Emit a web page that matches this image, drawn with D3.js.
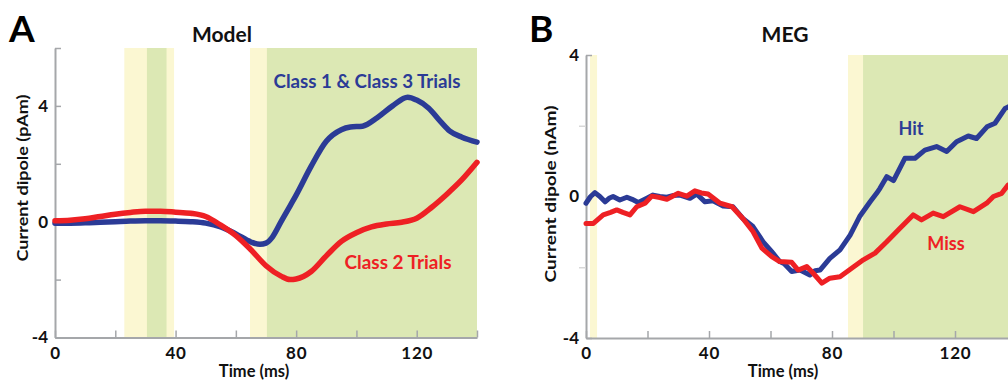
<!DOCTYPE html>
<html>
<head>
<meta charset="utf-8">
<script src="https://cdn.jsdelivr.net/npm/d3@7"></script>
<style>
  html, body { margin: 0; padding: 0; background: #fff; }
  svg { display: block; }
  text { font-family: Lato, "Open Sans", sans-serif; font-weight: 700; }
</style>
</head>
<body>
<svg id="chart" width="1008" height="387"></svg>
<script>
// ---- Panel A: model dipole (pAm) ----
const timeA = [0, 5, 10, 15, 20, 25, 30, 35, 40, 45, 50, 55, 60, 65, 68, 70, 72, 75, 78, 80, 85, 90, 95, 98, 102, 107, 112, 117, 120, 124, 128, 131, 135, 140];
const class13 = [-0.05, -0.05, -0.04, -0.02, 0.0, 0.02, 0.03, 0.03, 0.02, 0.0, -0.05, -0.18, -0.42, -0.7, -0.78, -0.74, -0.55, 0.0, 0.55, 0.92, 1.92, 2.78, 3.18, 3.27, 3.3, 3.6, 4.0, 4.3, 4.2, 3.92, 3.45, 3.13, 2.92, 2.75];
const timeA2 = [0, 5, 10, 15, 20, 25, 30, 35, 40, 45, 50, 55, 60, 65, 70, 75, 78, 80, 85, 90, 95, 100, 105, 110, 115, 120, 125, 130, 135, 140];
const class2 = [0.03, 0.05, 0.1, 0.18, 0.26, 0.32, 0.36, 0.36, 0.33, 0.29, 0.18, -0.12, -0.48, -0.97, -1.52, -1.88, -2.0, -1.98, -1.72, -1.18, -0.68, -0.38, -0.18, -0.08, -0.02, 0.12, 0.5, 0.95, 1.45, 2.05];

// ---- Panel B: MEG dipole (nAm) ----
const timeHit = [0, 1.5, 2.9, 4.5, 6.2, 7.5, 8.8, 11, 13.3, 15, 17, 19.8, 21.8, 24, 26.3, 28.5, 30.6, 33.8, 36, 38.7, 41.3, 44.6, 47.8, 51, 54.3, 57.6, 60.4, 63, 64.5, 66.9, 69.6, 72.8, 74.5, 76.1, 79.3, 82.6, 85.9, 89.1, 92.4, 94.5, 95.6, 97.8, 100, 103.7, 107, 110.2, 114, 117.3, 120.5, 124.3, 127, 130.4, 133, 136.3, 140];
const hit = [-0.19, 0.0, 0.11, 0.0, -0.15, -0.05, 0.0, -0.1, -0.02, -0.08, -0.17, -0.05, 0.04, 0.0, -0.02, 0.03, 0.04, -0.05, 0.07, -0.15, -0.12, -0.27, -0.29, -0.62, -0.85, -1.28, -1.56, -1.84, -1.9, -2.12, -2.08, -2.22, -2.1, -2.08, -1.75, -1.51, -1.09, -0.55, -0.15, 0.09, 0.23, 0.56, 0.45, 1.08, 1.08, 1.31, 1.41, 1.27, 1.55, 1.71, 1.64, 1.97, 2.07, 2.49, 2.65];
const timeMiss = [0, 2.4, 5.6, 8, 10, 12, 14.3, 16.5, 19.2, 21.4, 24, 26.3, 28, 30, 32.8, 35.4, 37.5, 39.7, 43.6, 47.5, 51, 54.3, 57.2, 60.4, 63, 66.9, 69, 71.8, 73.9, 76.7, 79.3, 82.6, 86.4, 90.2, 94, 97.8, 102.1, 106.4, 109.1, 112.9, 116.2, 121.6, 126, 130.3, 132.5, 135.2, 137.2, 140];
const miss = [-0.76, -0.76, -0.52, -0.45, -0.38, -0.45, -0.52, -0.29, -0.19, 0.01, -0.03, -0.08, 0.0, 0.09, 0.01, 0.16, 0.1, 0.07, -0.19, -0.29, -0.62, -0.99, -1.46, -1.7, -1.84, -1.86, -2.08, -1.98, -2.17, -2.45, -2.31, -2.27, -2.03, -1.79, -1.6, -1.28, -0.9, -0.52, -0.66, -0.47, -0.57, -0.29, -0.43, -0.19, 0.0, 0.09, 0.32, 0.45];

// shaded time windows [start, end] in ms
const yellowA = [[23, 39.5], [64.7, 140]];
const greenA = [[30.5, 37], [70.3, 140]];
const yellowB = [[1.3, 3.6], [85.2, 140]];
const greenB = [[90.1, 140]];

const xTicks = [0, 20, 40, 60, 80, 100, 120, 140];
const xLabels = [0, 40, 80, 120];

const BLUE = "#2b3b96";
const RED = "#ee2024";
const YELLOW = "#fbf7d2";
const GREEN = "#dce8b4";
const AXIS = "#a5a7aa";

const svg = d3.select("#chart");

function panel(opt) {
  const x = d3.scaleLinear().domain([0, 140]).range(opt.xRange);
  const y = d3.scaleLinear().domain(opt.yDomain).range(opt.yRange);
  const g = svg.append("g");
  const [y0, y1] = opt.yRange;

  // shaded windows
  opt.yellow.forEach(([a, b]) => g.append("rect")
    .attr("x", x(a)).attr("width", x(b) - x(a))
    .attr("y", y1).attr("height", y0 - y1).attr("fill", YELLOW));
  opt.green.forEach(([a, b]) => g.append("rect")
    .attr("x", x(a)).attr("width", x(b) - x(a))
    .attr("y", y1).attr("height", y0 - y1).attr("fill", GREEN));

  // x axis
  const xa = g.append("g").attr("transform", `translate(0,${y0})`)
    .call(d3.axisBottom(x).tickValues(xTicks).tickSizeInner(-7).tickSizeOuter(0).tickPadding(9)
      .tickFormat(d => xLabels.includes(d) ? d : ""));
  xa.select(".domain").attr("stroke", AXIS).attr("stroke-width", 2);
  xa.selectAll(".tick line").attr("stroke", AXIS).attr("stroke-width", 1.5);
  xa.selectAll(".tick text").attr("fill", "#111").attr("font-size", 17)
    .attr("font-family", "Lato").attr("font-weight", 700).attr("letter-spacing", 0.8);

  // y axis
  const ya = g.append("g").attr("transform", `translate(${opt.xRange[0]},0)`)
    .call(d3.axisLeft(y).tickValues(opt.yTicks).tickSizeInner(-6).tickSizeOuter(0).tickPadding(7)
      .tickFormat(d => opt.yLabels.includes(d) ? d : ""));
  ya.select(".domain").attr("stroke", AXIS).attr("stroke-width", 2);
  ya.selectAll(".tick line").attr("stroke", AXIS).attr("stroke-width", 1.5);
  ya.selectAll(".tick text").attr("fill", "#111").attr("font-size", 17)
    .attr("font-family", "Lato").attr("font-weight", 700);
  if (opt.faintTicks) {
    const fa = g.append("g").attr("transform", `translate(${opt.xRange[0]},0)`)
      .call(d3.axisLeft(y).tickValues(opt.faintTicks).tickSize(7).tickFormat(""));
    fa.select(".domain").remove();
    fa.selectAll(".tick line").attr("stroke", "#d8d8d8").attr("stroke-width", 1.5);
  }

  // traces
  opt.series.forEach(s => {
    const line = d3.line().x(d => x(d[0])).y(d => y(d[1])).curve(s.curve);
    g.append("path").datum(d3.zip(s.t, s.v))
      .attr("d", line).attr("fill", "none").attr("stroke", s.color)
      .attr("stroke-width", s.width).attr("stroke-linejoin", "round").attr("stroke-linecap", "round");
  });

  // labels
  g.append("text").attr("x", opt.letterX).attr("y", 42).attr("font-size", 37)
    .attr("font-weight", 900).attr("fill", "#000").text(opt.letter);
  g.append("text").attr("x", opt.titleX).attr("y", 42).attr("text-anchor", "middle")
    .attr("font-size", 21).attr("font-weight", 900).attr("fill", "#111").text(opt.title);
  g.append("text").attr("x", opt.xLabelX).attr("y", 377).attr("text-anchor", "middle")
    .attr("font-size", 16.5).attr("fill", "#111").text("Time (ms)");
  g.append("text").attr("transform", `translate(${opt.yLabelPos[0]},${opt.yLabelPos[1]}) rotate(-90)`)
    .attr("text-anchor", "middle").attr("font-size", 15.5).attr("fill", "#111")
    .attr("textLength", opt.yLabelLen).attr("lengthAdjust", "spacingAndGlyphs").text(opt.yLabel);
  opt.notes.forEach(n => {
    const t = g.append("text").attr("x", n.x).attr("y", n.y).attr("text-anchor", "middle")
      .attr("font-size", n.size).attr("font-weight", 900).attr("fill", n.color).text(n.text);
    if (n.len) t.attr("textLength", n.len).attr("lengthAdjust", "spacingAndGlyphs");
  });
}

panel({
  xRange: [55, 477], yDomain: [-4, 6], yRange: [337.5, 48],
  yTicks: [-4, -2, 0, 2, 4, 6], yLabels: [-4, 0, 4],
  yellow: yellowA, green: greenA,
  series: [
    { t: timeA, v: class13, color: BLUE, width: 5.5, curve: d3.curveMonotoneX },
    { t: timeA2, v: class2, color: RED, width: 5.5, curve: d3.curveMonotoneX }
  ],
  letter: "A", letterX: 9, title: "Model", titleX: 222, xLabelX: 254,
  yLabel: "Current dipole (pAm)", yLabelPos: [28, 178], yLabelLen: 167,
  notes: [
    { text: "Class 1 & Class 3 Trials", x: 367, y: 88, size: 18, color: BLUE, len: 187 },
    { text: "Class 2 Trials", x: 398, y: 269, size: 18, color: RED, len: 107 }
  ]
});

panel({
  xRange: [586, 586 + 140 * 3.075], yDomain: [-4, 4], yRange: [338, 55],
  yTicks: [-4, 0, 4], yLabels: [-4, 0, 4], faintTicks: [-2, 2],
  yellow: yellowB, green: greenB,
  series: [
    { t: timeHit, v: hit, color: BLUE, width: 5, curve: d3.curveLinear },
    { t: timeMiss, v: miss, color: RED, width: 5, curve: d3.curveLinear }
  ],
  letter: "B", letterX: 529, title: "MEG", titleX: 785, xLabelX: 783,
  yLabel: "Current dipole (nAm)", yLabelPos: [556, 194], yLabelLen: 177,
  notes: [
    { text: "Hit", x: 911, y: 135, size: 18, color: BLUE },
    { text: "Miss", x: 946, y: 250, size: 18, color: RED }
  ]
});
</script>
</body>
</html>
